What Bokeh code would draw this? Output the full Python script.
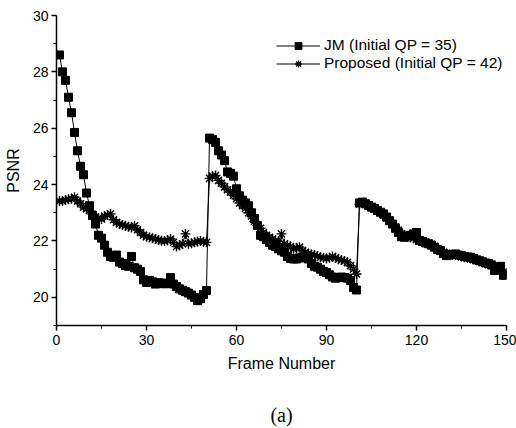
from bokeh.plotting import figure
from bokeh.models import Range1d, FixedTicker, Legend, LegendItem, Title
from bokeh.embed import file_html
from bokeh.resources import INLINE

frames = list(range(1, 151))

jm = [
    28.6, 28.0, 27.7, 27.1, 26.55, 25.85, 25.2, 24.65, 24.35, 23.7,
    23.25, 22.9, 22.6, 22.2, 22.1, 21.85, 21.6, 21.45, 21.42, 21.5,
    21.25, 21.2, 21.13, 21.1, 21.45, 21.05, 21.0, 20.92, 20.62, 20.53,
    20.6, 20.55, 20.47, 20.52, 20.5, 20.48, 20.5, 20.7, 20.47, 20.38,
    20.3, 20.25, 20.2, 20.15, 20.08, 20.0, 19.88, 19.95, 20.1, 20.24,
    25.65, 25.6, 25.5, 25.2, 25.05, 24.85, 24.45, 24.4, 24.3, 23.85,
    23.6, 23.45, 23.35, 23.25, 23.0, 22.8, 22.55, 22.2, 22.15, 22.05,
    21.95, 21.85, 21.8, 21.72, 21.65, 21.6, 21.45, 21.38, 21.36, 21.36,
    21.4, 21.42, 21.4, 21.36, 21.2, 21.1, 21.07, 21.0, 20.92, 20.88,
    20.8, 20.72, 20.68, 20.7, 20.72, 20.7, 20.68, 20.6, 20.35, 20.26,
    23.35, 23.38, 23.32, 23.26, 23.2, 23.15, 23.08, 23.02, 22.96, 22.85,
    22.72, 22.6, 22.45, 22.3, 22.15, 22.13, 22.18, 22.2, 22.25, 22.3,
    22.02, 21.98, 21.93, 21.9, 21.85, 21.78, 21.7, 21.66, 21.55, 21.48,
    21.5, 21.52, 21.54, 21.5, 21.48, 21.45, 21.43, 21.42, 21.38, 21.33,
    21.3, 21.26, 21.22, 21.2, 21.15, 20.95, 21.05, 21.1, 20.78, 20.8,
]

proposed = [
    23.42, 23.42, 23.45, 23.48, 23.5, 23.55, 23.42, 23.32, 23.2, 23.14,
    23.08, 22.95, 22.85, 22.8, 22.78, 22.88, 22.92, 22.96, 22.75, 22.66,
    22.6, 22.57, 22.54, 22.5, 22.48, 22.54, 22.4, 22.3, 22.2, 22.15,
    22.13, 22.1, 22.07, 22.03, 22.01, 22.0, 22.02, 22.07, 21.95, 21.8,
    21.85, 21.9, 22.25, 21.9, 21.92, 21.95, 21.98, 22.0, 21.97, 21.95,
    24.22, 24.3, 24.32, 24.15, 24.05, 23.92, 23.82, 23.73, 23.62, 23.5,
    23.35, 23.25, 23.15, 23.0, 22.88, 22.7, 22.55, 22.45, 22.3, 22.2,
    22.13, 22.07, 22.0, 21.98, 22.25, 21.9, 21.84, 21.8, 21.72, 21.75,
    21.78, 21.66, 21.6, 21.55, 21.52, 21.5, 21.46, 21.42, 21.4, 21.38,
    21.4, 21.45, 21.4, 21.35, 21.32, 21.28, 21.24, 21.12, 21.0, 20.83,
    23.3, 23.35, 23.3, 23.28, 23.22, 23.15, 23.1, 23.0, 22.92, 22.82,
    22.7, 22.6, 22.5, 22.38, 22.25, 22.2, 22.15, 22.12, 22.1, 22.05,
    22.0, 21.97, 21.95, 21.92, 21.88, 21.8, 21.72, 21.65, 21.6, 21.55,
    21.52, 21.5, 21.5, 21.48, 21.45, 21.42, 21.4, 21.38, 21.35, 21.32,
    21.28, 21.25, 21.2, 21.18, 21.12, 21.05, 21.0, 20.95, 20.9, 20.85,
]

x_ticks = [0, 30, 60, 90, 120, 150]
x_minor = [15, 45, 75, 105, 135]
y_ticks = [20, 22, 24, 26, 28, 30]
y_minor = [19, 21, 23, 25, 27, 29]

labels = ["JM (Initial QP = 35)", "Proposed (Initial QP = 42)"]

FONT = "Liberation Sans"

p = figure(width=516, height=428, x_range=Range1d(0, 150), y_range=Range1d(19, 30),
           output_backend="svg", toolbar_location=None,
           min_border_left=56, min_border_right=10, min_border_top=15, min_border_bottom=103)
p.outline_line_color = None
p.grid.visible = False
p.background_fill_color = "white"

p.xaxis.ticker = FixedTicker(ticks=x_ticks, minor_ticks=x_minor)
p.yaxis.ticker = FixedTicker(ticks=y_ticks, minor_ticks=y_minor)
for ax in (p.xaxis, p.yaxis):
    ax.axis_line_color = "black"
    ax.axis_line_width = 1.5
    ax.major_tick_line_color = "black"
    ax.major_tick_line_width = 1.5
    ax.minor_tick_line_color = "black"
    ax.major_tick_out = 5
    ax.major_tick_in = 0
    ax.minor_tick_out = 3
    ax.minor_tick_in = 0
    ax.major_label_text_font = FONT
    ax.major_label_text_font_size = "14px"
    ax.major_label_text_color = "black"
    ax.axis_label_text_font = FONT
    ax.axis_label_text_font_size = "16px"
    ax.axis_label_text_font_style = "normal"
    ax.axis_label_text_color = "black"

p.xaxis.axis_label = "Frame Number"
p.yaxis.axis_label = "PSNR"
p.xaxis.major_label_standoff = 4
p.xaxis.axis_label_standoff = 7
p.yaxis.major_label_standoff = 3
p.yaxis.axis_label_standoff = 8

l1 = p.line(frames, jm, line_color="black", line_width=1)
s1 = p.scatter(frames, jm, marker="square", size=8, fill_color="black", line_color="black")
l2 = p.line(frames, proposed, line_color="black", line_width=1)
s2 = p.scatter(frames, proposed, marker="asterisk", size=10, line_color="black", line_width=1.4)

legend = Legend(items=[LegendItem(label=labels[0], renderers=[l1, s1]),
                       LegendItem(label=labels[1], renderers=[l2, s2])],
                location=(220, 253))
legend.border_line_color = None
legend.background_fill_alpha = 0
legend.padding = 0
legend.margin = 0
legend.spacing = 0
legend.glyph_width = 44
legend.glyph_height = 17
legend.label_height = 17
legend.label_standoff = 4
legend.label_text_font = FONT
legend.label_text_font_size = "15.5px"
legend.label_text_color = "black"
p.add_layout(legend)

spacer = Title(text=" ", text_font_size="2px", standoff=20)
p.add_layout(spacer, "below")

cap = Title(text="(a)", align="center", text_font="Liberation Serif",
            text_font_size="20px", text_font_style="normal", text_color="black",
            standoff=6)
p.add_layout(cap, "below")

open("out.html", "w").write(file_html(p, INLINE))
